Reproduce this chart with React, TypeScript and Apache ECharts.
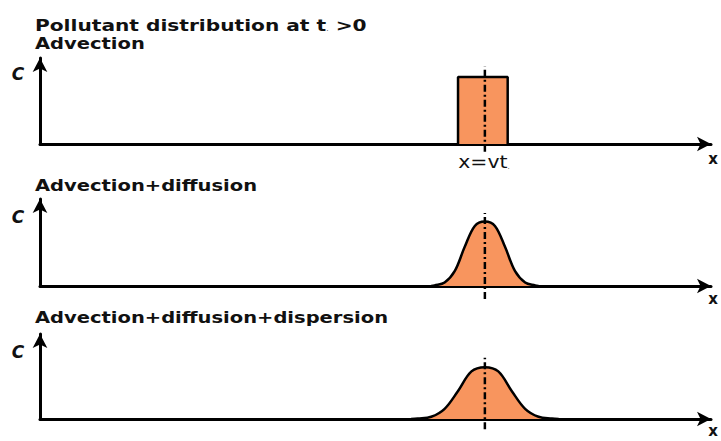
import React, { useEffect, useRef } from "react";
import * as echarts from "echarts";

const mainTitle = "Pollutant distribution at t";
const panelTitles = ["Advection", "Advection+diffusion", "Advection+diffusion+dispersion"];
const vt = 66.3;
const pulseX = [62.3, 62.3, 69.7, 69.7];
const pulseC = [0, 0.78, 0.78, 0];
const diffX = [58.3, 58.8, 60.3, 61.8, 63.3, 64.8, 66.3, 67.8, 69.3, 70.8, 72.3, 73.8, 74.3];
const diffC = [0, 0.007, 0.04, 0.17, 0.45, 0.69, 0.74, 0.69, 0.45, 0.17, 0.04, 0.007, 0];
const dispX = [55.3, 56.3, 58.3, 60.3, 62.3, 64.3, 66.3, 68.3, 70.3, 72.3, 74.3, 76.3, 77.3];
const dispC = [0, 0.005, 0.026, 0.12, 0.33, 0.56, 0.61, 0.56, 0.33, 0.12, 0.026, 0.005, 0];
const centerLow = [-0.09, -0.15, -0.12];
const centerHigh = [0.9, 0.84, 0.72];

const gridTops = [58, 199, 334];
const gridHeights = [86, 87, 85];
const ORANGE = "#F8955E";
const FONT = '"DejaVu Sans", sans-serif';

export default function App() {
  const ref = useRef<HTMLDivElement>(null);
  useEffect(() => {
    if (!ref.current) return;
    const chart = echarts.init(ref.current, null, { renderer: "svg" });
    const pairs = (xs: number[], ys: number[]) => xs.map((x, i) => [x, ys[i]]);
    const curves = [pairs(pulseX, pulseC), pairs(diffX, diffC), pairs(dispX, dispC)];
    const axisLine = {
      show: true,
      symbol: ["none", "arrow"],
      symbolSize: [11, 14],
      lineStyle: { color: "#000", width: 3 },
    };
    const series: any[] = [];
    curves.forEach((d, i) => {
      series.push({
        type: "line",
        xAxisIndex: i,
        yAxisIndex: i,
        data: d,
        symbol: "none",
        smooth: i === 0 ? false : 0.35,
        lineStyle: { color: "#000", width: 2.5 },
        areaStyle: { color: ORANGE, opacity: 1 },
        z: 2,
      });
      series.push({
        type: "line",
        xAxisIndex: i,
        yAxisIndex: i,
        data: [
          [vt, centerLow[i]],
          [vt, centerHigh[i]],
        ],
        symbol: "none",
        clip: false,
        lineStyle: { color: "#000", width: 2.5, type: [7, 3, 2, 3] },
        z: 3,
      });
    });
    const texts: any[] = [];
    const addText = (
      text: string,
      x: number,
      y: number,
      font: string,
      align = "left",
      scaleX = 1,
      rich?: any
    ) =>
      texts.push({
        type: "text",
        x,
        y,
        scaleX,
        style: { text, font, fill: "#111", align, verticalAlign: "middle", rich },
        z: 10,
      });
    const titleFont = `bold 16px ${FONT}`;
    const SX = 1.22;
    addText(mainTitle + "{s|.} >0", 35, 25, titleFont, "left", 1.26, {
      s: { fontSize: 6, fontFamily: FONT, padding: [8, 0, 0, 0] },
    });
    addText(panelTitles[0], 35, 43, titleFont, "left", SX);
    addText(panelTitles[1], 35, 185, titleFont, "left", SX);
    addText(panelTitles[2], 35, 317, titleFont, "left", SX);
    const cFont = `italic bold 17px ${FONT}`;
    addText("C", 18, 74, cFont, "center");
    addText("C", 18, 217, cFont, "center");
    addText("C", 18, 352, cFont, "center");
    const xFont = `bold 15px ${FONT}`;
    addText("x", 713, 159, xFont, "center");
    addText("x", 713, 299, xFont, "center");
    addText("x", 713, 431, xFont, "center");
    addText("x=vt{s|.}", 484, 162, `17px ${FONT}`, "center", 1.2, {
      s: { fontSize: 6, fontFamily: FONT, padding: [10, 0, 0, 0] },
    });

    chart.setOption({
      animation: false,
      backgroundColor: "#fff",
      grid: gridTops.map((t, i) => ({ left: 40, right: 10, top: t, height: gridHeights[i] })),
      xAxis: gridTops.map((_, i) => ({
        type: "value",
        gridIndex: i,
        min: 0,
        max: 100,
        axisLine,
        axisTick: { show: false },
        axisLabel: { show: false },
        splitLine: { show: false },
      })),
      yAxis: gridTops.map((_, i) => ({
        type: "value",
        gridIndex: i,
        min: 0,
        max: 1,
        axisLine,
        axisTick: { show: false },
        axisLabel: { show: false },
        splitLine: { show: false },
      })),
      series,
      graphic: texts,
    });
    return () => chart.dispose();
  }, []);
  return (
    <div
      ref={ref}
      style={{ position: "fixed", left: 0, top: 0, width: 721, height: 441 }}
    />
  );
}
